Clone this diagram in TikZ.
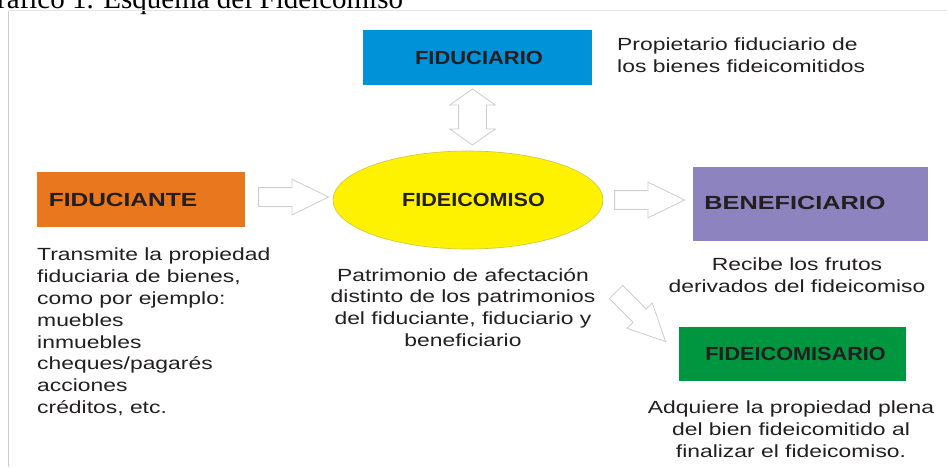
\documentclass[tikz,border=0pt]{standalone}
\usepackage{fontspec}
\setmainfont[FakeStretch=1.3]{Liberation Sans}
\newfontfamily\lblfont{Liberation Sans}
\newfontfamily\capfont{Liberation Serif}
\usetikzlibrary{shapes.geometric,shapes.arrows,calc}
\definecolor{txt}{RGB}{35,31,32}
\definecolor{cblue}{RGB}{0,146,216}
\definecolor{corange}{RGB}{232,119,30}
\definecolor{cpurple}{RGB}{141,131,190}
\definecolor{cgreen}{RGB}{0,150,64}
\definecolor{cyellow}{RGB}{255,242,0}
\definecolor{cyedge}{RGB}{205,195,70}
\definecolor{agray}{RGB}{205,205,205}
\definecolor{framegray}{RGB}{205,205,205}
\definecolor{framelight}{RGB}{228,228,228}
\newcommand{\lbltext}[2]{\scalebox{#1}[1]{\lblfont\bfseries\fontsize{19pt}{22pt}\selectfont #2}}
\begin{document}
\begin{tikzpicture}[x=1pt,y=-1pt,
  box/.style={inner sep=0pt, outer sep=0pt, draw=none},
  lbl/.style={inner sep=0pt, text=txt},
  desc/.style={inner sep=0pt, text=txt, font=\fontsize{17.6pt}{21.8pt}\selectfont},
  barrow/.style={single arrow, draw=agray, fill=white, line width=0.8pt,
    minimum height=70pt, inner xsep=0pt, inner ysep=9pt, single arrow head extend=8.5pt,
    single arrow tip angle=52},
  darrow/.style={double arrow, draw=agray, fill=white, line width=0.8pt,
    minimum height=56pt, inner xsep=0pt, inner ysep=13.5pt, double arrow head extend=9pt,
    double arrow tip angle=110}
]
\useasboundingbox (0,0) rectangle (947,467);
\clip (0,0) rectangle (947,467);
\fill[white] (0,0) rectangle (947,467);

% caption (cut at top)
\node[anchor=base west, inner sep=0pt, text=black, font=\capfont\fontsize{29pt}{34pt}\selectfont] (caption) at (-24,8) {Gráfico 1. Esquema del Fideicomiso};

% frame
\coordinate (fr1) at (8.5,467);
\coordinate (fr2) at (8.5,10.5);
\coordinate (fr3) at (947,10.5);
\draw[framegray, line width=0.8pt] (fr1) -- (fr2);
\draw[framelight, line width=0.8pt] (fr2) -- (fr3);

% boxes
\node[box, fill=cblue, minimum width=229pt, minimum height=55pt] (fiduciario) at (477.5,57.5) {};
\node[lbl] (tfiduciario) at (479,58) {\lbltext{1.155}{FIDUCIARIO}};

\node[box, fill=corange, minimum width=208pt, minimum height=55pt] (fiduciante) at (141,199.5) {};
\node[lbl] (tfiduciante) at (123,200) {\lbltext{1.29}{FIDUCIANTE}};

\node[ellipse, draw=cyedge, line width=0.6pt, fill=cyellow, minimum width=270pt, minimum height=98pt, inner sep=0pt] (fid) at (468,200) {};
\node[lbl] (tfid) at (473.5,200) {\lbltext{1.136}{FIDEICOMISO}};

\node[box, fill=cpurple, minimum width=235pt, minimum height=74pt] (benef) at (810.5,204) {};
\node[lbl] (tbenef) at (795,203) {\lbltext{1.33}{BENEFICIARIO}};

\node[box, fill=cgreen, minimum width=227pt, minimum height=54pt] (fideicomisario) at (792.5,354) {};
\node[lbl] (tfideicomisario) at (795.5,354) {\lbltext{1.14}{FIDEICOMISARIO}};

% block arrows
\node[darrow, rotate=90] (a0) at (472.5,117) {};
\node[barrow] (a1) at (284,197) {};
\node[barrow] (a2) at (640,200) {};
\node[barrow, rotate=-45] (a3) at (634,310) {};

% descriptions
\node[desc, anchor=north west, align=left] (dfiduciario) at (617,38) {Propietario fiduciario de\\los bienes fideicomitidos};
\node[desc, anchor=north west, align=left] (dfiduciante) at (37,248) {Transmite la propiedad\\fiduciaria de bienes,\\como por ejemplo:\\muebles\\inmuebles\\cheques/pagarés\\acciones\\créditos, etc.};
\node[desc, anchor=north, align=center] (dfid) at (463,268) {Patrimonio de afectación\\distinto de los patrimonios\\del fiduciante, fiduciario y\\beneficiario};
\node[desc, anchor=north, align=center] (dbenef) at (797,258) {Recibe los frutos\\derivados del fideicomiso};
\node[desc, anchor=north, align=center] (dfideicomisario) at (791,401) {Adquiere la propiedad plena\\del bien fideicomitido al\\finalizar el fideicomiso.};
\end{tikzpicture}
\end{document}
